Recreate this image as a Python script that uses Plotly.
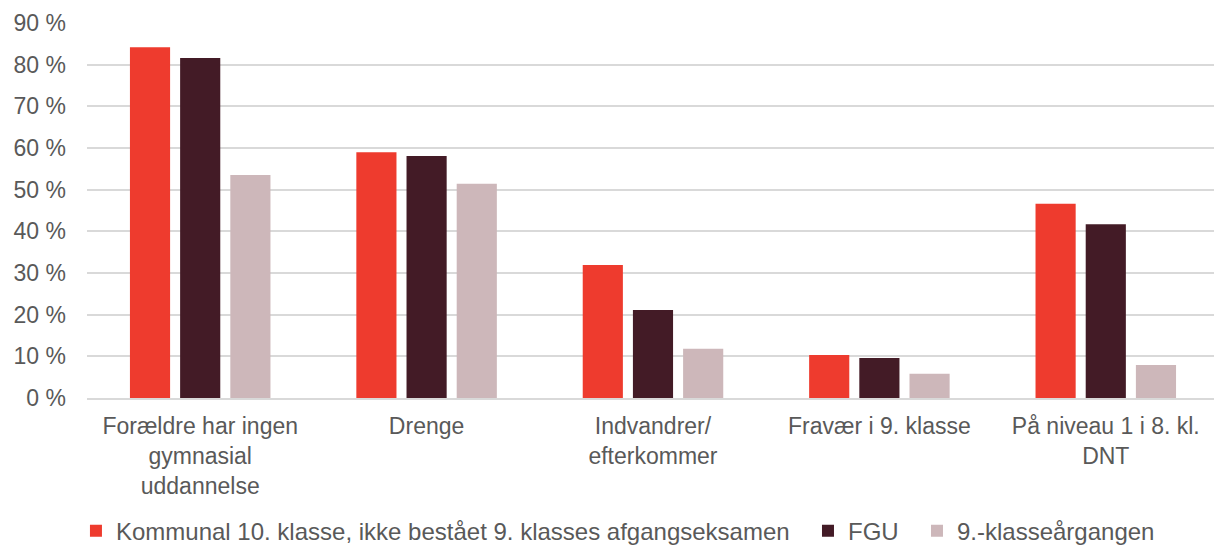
import plotly.graph_objects as go

# Kategorier og andele (procent)
categories = [
    "Forældre har ingen<br>gymnasial<br>uddannelse",
    "Drenge",
    "Indvandrer/<br>efterkommer",
    "Fravær i 9. klasse",
    "På niveau 1 i 8. kl.<br>DNT",
]
kommunal_10 = [84.2, 59.0, 31.9, 10.3, 46.6]
fgu = [81.6, 58.1, 21.1, 9.6, 41.7]
aargang_9 = [53.5, 51.4, 11.8, 5.8, 7.9]

series_names = [
    "Kommunal 10. klasse, ikke bestået 9. klasses afgangseksamen",
    "FGU",
    "9.-klasseårgangen",
]
colors = ["#EE3B2E", "#431B26", "#CDB7BA"]

fig = go.Figure()
for i, (name, values, color) in enumerate(
    zip(series_names, [kommunal_10, fgu, aargang_9], colors)
):
    # trailing nbsp gives a bit more room between legend entries
    label = name + ("\u00a0\u00a0" if i < len(series_names) - 1 else "")
    fig.add_trace(
        go.Bar(
            x=categories,
            y=values,
            name=label,
            marker=dict(color=color, line=dict(width=0)),
        )
    )

fig.update_layout(
    width=1214,
    height=545,
    barmode="group",
    bargap=0.335,
    bargroupgap=0.2,
    plot_bgcolor="white",
    paper_bgcolor="white",
    font=dict(family="Liberation Sans, Arial, sans-serif", size=23, color="#595959"),
    margin=dict(l=87, r=0, t=23, b=147, autoexpand=False),
    showlegend=True,
    legend=dict(
        orientation="h",
        xanchor="left",
        x=-0.0098,
        yanchor="middle",
        y=-0.355,
        font=dict(size=24, color="#595959"),
        itemwidth=30,
        traceorder="normal",
    ),
)

fig.update_yaxes(
    range=[0, 90],
    dtick=10,
    ticksuffix=" %",
    showgrid=True,
    gridcolor="#D9D9D9",
    gridwidth=1.5,
    zeroline=False,
    showline=False,
    ticks="",
    ticklabelstandoff=20,
)
# the last category runs slightly past the right edge, as in the original
fig.update_xaxes(
    range=[-0.5, 4.478],
    showline=True,
    linecolor="#D9D9D9",
    linewidth=1.5,
    ticks="",
    tickangle=0,
    ticklabelstandoff=7,
)

# drop the default 8px body margin so the figure fills the window exactly
fig.write_html(
    "out.html",
    config={"displayModeBar": False},
    post_script="document.body.style.margin = '0';",
)
